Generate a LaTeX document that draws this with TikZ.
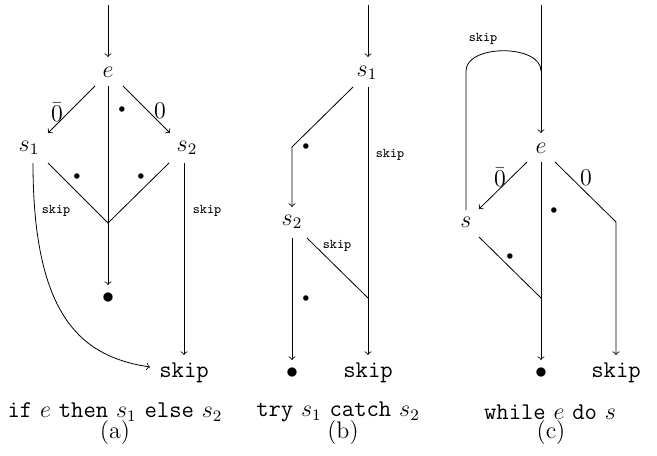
\documentclass[tikz,border=0pt]{standalone}
\begin{document}
\begin{tikzpicture}[x=0.5pt,y=-0.5pt,line width=0.4pt,
  big/.style={font=\fontsize{12}{14}\selectfont, inner sep=0pt},
  sm/.style={font=\fontsize{6.7}{8}\selectfont\ttfamily, inner sep=0pt},
  smdot/.style={font=\fontsize{6.4}{8}\selectfont, inner sep=0pt},
  arr/.style={->}]
\useasboundingbox (0,0) rectangle (657,455);

% ---------------- (a) ----------------
\coordinate (aIn) at (108,5);
\node[big] (ae) at (108,72) {$e$};
\node[big] (as1) at (29,148) {$s_1$};
\node[big] (as2) at (187,148) {$s_2$};
\node[big] (abul) at (108,298) {$\bullet$};
\node[big] (askip) at (184,373) {\texttt{skip}};
\coordinate (aeT) at (108,57);
\coordinate (aeL) at (95,86);
\coordinate (aeM) at (108,86);
\coordinate (aeR) at (123,86);
\coordinate (as1T) at (48,133);
\coordinate (as2T) at (170,133);
\coordinate (as1D) at (33,163);
\coordinate (as1R) at (48,163);
\coordinate (as2L) at (169,163);
\coordinate (as2D) at (184,163);
\coordinate (aJ) at (108,223);
\coordinate (abulT) at (108,285);
\coordinate (askT) at (184,355);
\coordinate (askL) at (150,367);
\draw[arr] (aIn) -- (aeT);
\draw[arr] (aeL) -- (as1T);
\draw[arr] (aeR) -- (as2T);
\draw (aeM) -- (aJ);
\draw (as1R) -- (aJ) -- (as2L);
\draw[arr] (aJ) -- (abulT);
\draw[arr] (as1D) .. controls (33,320) and (84,357) .. (askL);
\draw[arr] (as2D) -- (askT);
\node[big] (al0b) at (57,112) {$\bar{0}$};
\node[big] (al0) at (160,111) {$0$};
\node[smdot] (ad1) at (122,110) {$\bullet$};
\node[smdot] (ad2) at (77,177) {$\bullet$};
\node[smdot] (ad3) at (141,177) {$\bullet$};
\node[sm] (ask1) at (56,211) {skip};
\node[sm] (ask2) at (207,211) {skip};
\node[big] (acap) at (115,412) {\texttt{if} $e$ \texttt{then} $s_1$ \texttt{else} $s_2$};
\node[big] (alab) at (115,433) {(a)};

% ---------------- (b) ----------------
\coordinate (bIn) at (368,5);
\node[big] (bs1) at (367,73) {$s_1$};
\node[big] (bs2) at (292,222) {$s_2$};
\node[big] (bbul) at (292,373) {$\bullet$};
\node[big] (bskip) at (368,373) {\texttt{skip}};
\coordinate (bs1T) at (368,57);
\coordinate (bs1L) at (353,87);
\coordinate (bs1D) at (368,87);
\coordinate (bK) at (292,147);
\coordinate (bs2T) at (292,207);
\coordinate (bs2D) at (292,238);
\coordinate (bs2R) at (307,238);
\coordinate (bJ) at (368,298);
\coordinate (bbulT) at (292,360);
\coordinate (bskT) at (368,355);
\draw[arr] (bIn) -- (bs1T);
\draw[arr] (bs1L) -- (bK) -- (bs2T);
\draw[arr] (bs1D) -- (bskT);
\draw[arr] (bs2D) -- (bbulT);
\draw (bs2R) -- (bJ);
\node[smdot] (bd1) at (306,147) {$\bullet$};
\node[smdot] (bd2) at (306,299) {$\bullet$};
\node[sm] (bsk1) at (390,155) {skip};
\node[sm] (bsk2) at (337,246) {skip};
\node[big] (bcap) at (338,412) {\texttt{try} $s_1$ \texttt{catch} $s_2$};
\node[big] (blab) at (343,433) {(b)};

% ---------------- (c) ----------------
\coordinate (cIn) at (541,5);
\node[big] (ce) at (541,148) {$e$};
\node[big] (cs) at (466,222) {$s$};
\node[big] (cbul) at (541,373) {$\bullet$};
\node[big] (cskip) at (616,373) {\texttt{skip}};
\coordinate (ceT) at (541,133);
\coordinate (cLoopR) at (541,71);
\coordinate (cLoopL) at (466,71);
\coordinate (csU) at (466,210);
\coordinate (ceL) at (527,162);
\coordinate (ceM) at (541,162);
\coordinate (ceR) at (555,162);
\coordinate (csT) at (479,209);
\coordinate (cK) at (616,222);
\coordinate (csR) at (479,237);
\coordinate (cJ) at (541,298);
\coordinate (cbulT) at (541,360);
\coordinate (cskT) at (616,355);
\draw[arr] (cIn) -- (ceT);
\draw (csU) -- (cLoopL) .. controls (466,44) and (541,44) .. (cLoopR);
\draw[arr] (ceL) -- (csT);
\draw[arr] (ceR) -- (cK) -- (cskT);
\draw[arr] (ceM) -- (cbulT);
\draw (csR) -- (cJ);
\node[sm] (csk) at (483,39) {skip};
\node[big] (cl0b) at (500,177) {$\bar{0}$};
\node[big] (cl0) at (586,178) {$0$};
\node[smdot] (cd1) at (554,211) {$\bullet$};
\node[smdot] (cd2) at (510,257) {$\bullet$};
\node[big] (ccap) at (550,412) {\texttt{while} $e$ \texttt{do} $s$};
\node[big] (clab) at (551,433) {(c)};
\end{tikzpicture}
\end{document}
